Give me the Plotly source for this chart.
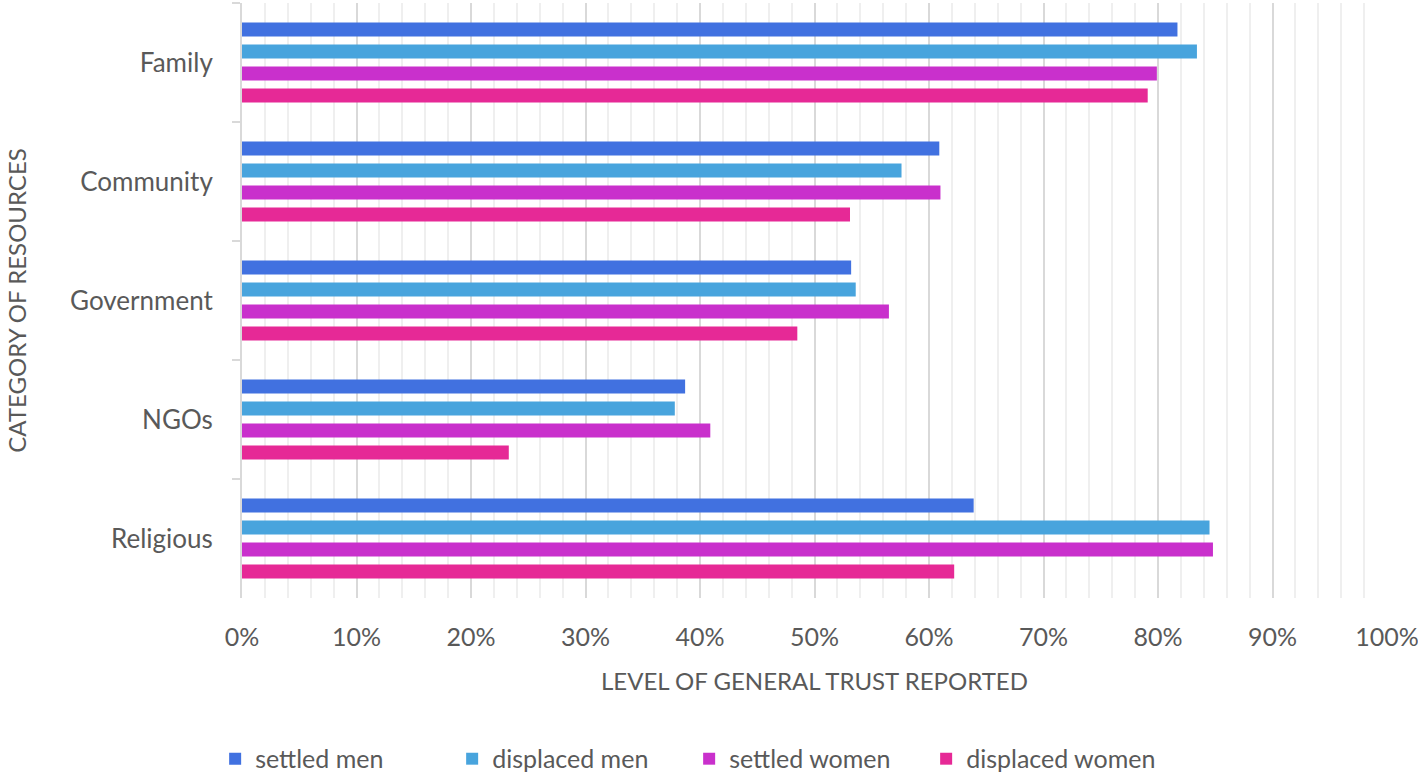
import plotly.graph_objects as go

# categories (top to bottom) and the four series, as fractions
categories = ["Family", "Community", "Government", "NGOs", "Religious"]
settled_men = [0.817, 0.609, 0.532, 0.387, 0.639]
displaced_men = [0.834, 0.576, 0.536, 0.378, 0.845]
settled_women = [0.799, 0.610, 0.565, 0.409, 0.848]
displaced_women = [0.791, 0.531, 0.485, 0.233, 0.622]

series = [
    ("settled men", settled_men, "#4171E0"),
    ("displaced men", displaced_men, "#48A4DD"),
    ("settled women", settled_women, "#C930CC"),
    ("displaced women", displaced_women, "#E62996"),
]

FONT = "Lato"
GREY = "#595959"

fig = go.Figure()
for name, vals, color in series:
    fig.add_trace(go.Bar(y=categories, x=vals, name=name, orientation="h",
                         marker=dict(color=color, line=dict(width=0))))

fig.update_layout(
    barmode="group",
    bargap=0.26,
    bargroupgap=0.36,
    width=1418, height=776,
    margin=dict(l=242, r=31, t=3, b=178),
    plot_bgcolor="white",
    paper_bgcolor="white",
    font=dict(family=FONT, size=25, color=GREY),
    legend=dict(orientation="h", xref="container", yref="container",
                x=0.486, xanchor="center", y=0.022, yanchor="middle",
                font=dict(size=25, color=GREY), traceorder="normal",
                entrywidth=192, entrywidthmode="pixels"),
)

# axis titles as annotations so they stay where the reference has them
fig.add_annotation(text="LEVEL OF GENERAL TRUST REPORTED", xref="paper", yref="paper",
                   x=0.5, y=-0.138, xanchor="center", yanchor="middle",
                   showarrow=False, font=dict(size=24, color=GREY))
fig.add_annotation(text="CATEGORY OF RESOURCES", xref="paper", yref="paper",
                   x=-0.1972, y=0.5, xanchor="center", yanchor="middle", textangle=-90,
                   showarrow=False, font=dict(size=24, color=GREY))

fig.update_xaxes(
    range=[0, 1], tickformat=".0%", dtick=0.1, automargin=False,
    showgrid=True, gridcolor="#D9D9D9", gridwidth=2,
    minor=dict(dtick=0.02, showgrid=True, gridcolor="#EFEFEF", gridwidth=2),
    zeroline=False, showline=False, ticks="",
    ticklabelstandoff=22, ticklabeloverflow="allow",
)

fig.update_yaxes(
    autorange="reversed", automargin=False,
    showline=True, linecolor="#D9D9D9", linewidth=2,
    ticks="outside", tickson="boundaries", ticklen=8, tickwidth=2, tickcolor="#D9D9D9",
    showgrid=False, zeroline=False,
    ticklabelstandoff=22,
    tickfont=dict(size=26),
)

# drop the page's default body margin so the figure sits at the window's corner
fig.write_html("out.html", config={"displayModeBar": False},
               post_script="document.body.style.margin='0';")
